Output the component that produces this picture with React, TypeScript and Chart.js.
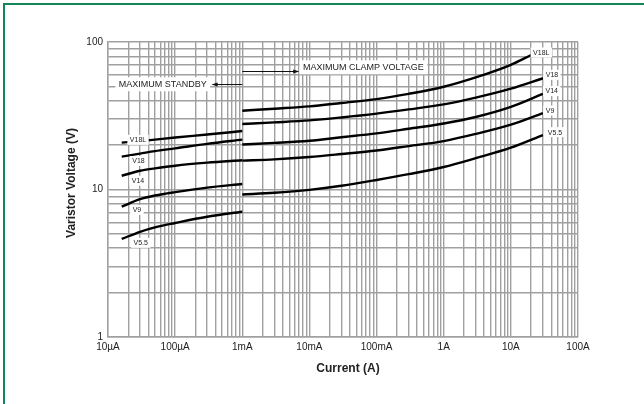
import React, { useEffect, useRef } from 'react';
import { Chart, registerables } from 'chart.js';

Chart.register(...registerables);

// ---------- axes ----------
const X_DECADES = [1e-5, 1e-4, 1e-3, 1e-2, 1e-1, 1, 10, 100];
const X_TICK_LABELS = ['10µA', '100µA', '1mA', '10mA', '100mA', '1A', '10A', '100A'];
const Y_DECADES = [1, 10, 100];
const Y_TICK_LABELS = ['1', '10', '100'];
const MINOR_STEPS = [1, 2, 3, 4, 5, 6, 7, 8, 9];

// ---------- data ----------
const SERIES_NAMES = ['V18L', 'V18', 'V14', 'V9', 'V5.5'];

const STANDBY_CURRENT = [1.6e-5, 3e-5, 5e-5, 1e-4, 3e-4, 1e-3];
const V18L_STANDBY = [20.8, 21.3, 21.8, 22.5, 23.6, 24.9];
const V18_STANDBY = [16.7, 17.5, 18.2, 19.0, 20.4, 21.8];
const V14_STANDBY = [12.4, 13.4, 13.9, 14.5, 15.2, 15.8];
const V9_STANDBY = [7.65, 8.6, 9.1, 9.6, 10.3, 10.9];
const V55_STANDBY = [4.62, 5.17, 5.54, 5.93, 6.54, 7.07];

const CLAMP_CURRENT = [1e-3, 3e-3, 1e-2, 3e-2, 0.1, 0.3, 1, 3, 10, 30];
const CLAMP_CURRENT_V18L = [1e-3, 3e-3, 1e-2, 3e-2, 0.1, 0.3, 1, 3, 10, 20];
const V18L_CLAMP = [34.2, 35.3, 36.6, 38.6, 41.0, 44.5, 49.7, 57.5, 70.0, 81.5];
const V18_CLAMP = [27.8, 28.5, 29.4, 30.8, 32.7, 34.9, 37.8, 42.0, 48.3, 56.8];
const V14_CLAMP = [20.2, 20.7, 21.4, 22.6, 24.0, 25.8, 28.0, 31.0, 36.3, 44.5];
const V9_CLAMP = [15.7, 16.0, 16.6, 17.4, 18.4, 19.7, 21.3, 23.8, 27.5, 33.0];
const V55_CLAMP = [9.25, 9.5, 9.95, 10.6, 11.6, 12.7, 14.2, 16.3, 19.2, 23.4];

const STANDBY_VALUES = [V18L_STANDBY, V18_STANDBY, V14_STANDBY, V9_STANDBY, V55_STANDBY];
const CLAMP_VALUES = [V18L_CLAMP, V18_CLAMP, V14_CLAMP, V9_CLAMP, V55_CLAMP];
const CLAMP_CURRENTS = [CLAMP_CURRENT_V18L, CLAMP_CURRENT, CLAMP_CURRENT, CLAMP_CURRENT, CLAMP_CURRENT];

// ---------- annotation anchors (data units) ----------
const LEFT_LABEL_POS = [
  { x: 2.8e-5, y: 21.7 },
  { x: 2.84e-5, y: 15.6 },
  { x: 2.8e-5, y: 11.47 },
  { x: 2.7e-5, y: 7.26 },
  { x: 3.07e-5, y: 4.35 },
];
const RIGHT_LABEL_POS = [
  { x: 28.4, y: 84.9 },
  { x: 41.0, y: 59.9 },
  { x: 40.7, y: 46.5 },
  { x: 38.3, y: 34.3 },
  { x: 45.5, y: 24.5 },
];
const CLAMP_NOTE = { text: 'MAXIMUM CLAMP VOLTAGE', x: 0.0637, y: 67.4, arrowFrom: 1e-3, arrowTo: 6.8e-3, arrowY: 64 };
const STANDBY_NOTE = { text: 'MAXIMUM STANDBY', x: 6.53e-5, y: 51.7, arrowFrom: 1e-3, arrowTo: 3.62e-4, arrowY: 51.9 };

const FONT = '"Liberation Sans", Arial, Helvetica, sans-serif';
const GRID = '#a0a0a0';
const TEXT = '#222222';

function logTicks(decades: number[]) {
  const out: number[] = [];
  for (let i = 0; i < decades.length - 1; i++) {
    for (const m of MINOR_STEPS) out.push(decades[i] * m);
  }
  out.push(decades[decades.length - 1]);
  return out;
}

function decadeLabel(value: number, decades: number[], labels: string[]) {
  const i = decades.findIndex((d) => Math.abs(d - value) / d < 1e-6);
  return i >= 0 ? labels[i] : '';
}

function boxedText(ctx: CanvasRenderingContext2D, text: string, cx: number, cy: number, size: number, padX: number, h: number) {
  ctx.font = `${size}px ${FONT}`;
  const w = ctx.measureText(text).width;
  ctx.fillStyle = '#ffffff';
  ctx.fillRect(cx - w / 2 - padX, cy - h / 2, w + padX * 2, h);
  ctx.fillStyle = TEXT;
  ctx.textAlign = 'center';
  ctx.textBaseline = 'middle';
  ctx.fillText(text, cx, cy + 0.5);
}

function arrow(ctx: CanvasRenderingContext2D, x0: number, x1: number, y: number) {
  ctx.strokeStyle = '#111';
  ctx.lineWidth = 1;
  ctx.beginPath();
  ctx.moveTo(x0, y);
  ctx.lineTo(x1, y);
  ctx.stroke();
  const dir = x1 > x0 ? 1 : -1;
  ctx.fillStyle = '#111';
  ctx.beginPath();
  ctx.moveTo(x1 + dir * 1, y);
  ctx.lineTo(x1 - dir * 5, y - 2);
  ctx.lineTo(x1 - dir * 5, y + 2);
  ctx.closePath();
  ctx.fill();
}

const overlayPlugin = {
  id: 'overlay',
  afterDatasetsDraw(chart: any) {
    const { ctx, scales } = chart;
    const xs = scales.x;
    const ys = scales.y;
    ctx.save();
    for (const note of [CLAMP_NOTE, STANDBY_NOTE]) {
      arrow(ctx, xs.getPixelForValue(note.arrowFrom), xs.getPixelForValue(note.arrowTo), Math.round(ys.getPixelForValue(note.arrowY)) + 0.5);
      boxedText(ctx, note.text, xs.getPixelForValue(note.x), ys.getPixelForValue(note.y), 9, 3.5, 14);
    }
    SERIES_NAMES.forEach((name, i) => {
      const l = LEFT_LABEL_POS[i];
      boxedText(ctx, name, xs.getPixelForValue(l.x), ys.getPixelForValue(l.y), 7, 2.5, 10);
      const r = RIGHT_LABEL_POS[i];
      boxedText(ctx, name, xs.getPixelForValue(r.x), ys.getPixelForValue(r.y), 7, 2.5, 10);
    });
    ctx.fillStyle = TEXT;
    ctx.font = `bold 12px ${FONT}`;
    ctx.textAlign = 'center';
    ctx.textBaseline = 'middle';
    ctx.fillText('Current (A)', 348, 369);
    ctx.translate(72, 183);
    ctx.rotate(-Math.PI / 2);
    ctx.fillText('Varistor Voltage (V)', 0, 0);
    ctx.restore();
  },
};

export default function App() {
  const canvasRef = useRef<HTMLCanvasElement | null>(null);

  useEffect(() => {
    if (!canvasRef.current) return;
    const datasets: any[] = [];
    SERIES_NAMES.forEach((name, i) => {
      datasets.push({
        label: name + ' standby',
        data: STANDBY_CURRENT.map((c, j) => ({ x: c, y: STANDBY_VALUES[i][j] })),
      });
      datasets.push({
        label: name + ' clamp',
        data: CLAMP_CURRENTS[i].map((c, j) => ({ x: c, y: CLAMP_VALUES[i][j] })),
      });
    });
    datasets.forEach((d) => {
      d.borderColor = '#000000';
      d.borderWidth = 2.4;
      d.pointRadius = 0;
      d.fill = false;
      d.cubicInterpolationMode = 'monotone';
      d.borderCapStyle = 'butt';
    });

    const chart = new Chart(canvasRef.current, {
      type: 'line',
      data: { datasets },
      options: {
        animation: false,
        responsive: false,
        devicePixelRatio: 1,
        layout: { padding: { left: 0, right: 66, top: 42, bottom: 0 } },
        plugins: { legend: { display: false }, tooltip: { enabled: false } },
        scales: {
          x: {
            type: 'logarithmic',
            min: X_DECADES[0],
            max: X_DECADES[X_DECADES.length - 1],
            afterBuildTicks: (scale: any) => {
              scale.ticks = logTicks(X_DECADES).map((v) => ({ value: v }));
            },
            afterFit: (scale: any) => {
              scale.height = 67;
            },
            grid: { color: GRID, lineWidth: 1.4, drawTicks: false },
            border: { display: true, color: GRID, width: 1.4 },
            ticks: {
              autoSkip: false,
              maxRotation: 0,
              minRotation: 0,
              padding: 4,
              color: TEXT,
              font: { family: FONT, size: 10 },
              callback: (v: any) => decadeLabel(Number(v), X_DECADES, X_TICK_LABELS),
            },
          },
          y: {
            type: 'logarithmic',
            min: Y_DECADES[0],
            max: Y_DECADES[Y_DECADES.length - 1],
            afterBuildTicks: (scale: any) => {
              scale.ticks = logTicks(Y_DECADES).map((v) => ({ value: v }));
            },
            afterFit: (scale: any) => {
              scale.width = 108;
            },
            grid: { color: GRID, lineWidth: 1.4, drawTicks: false },
            border: { display: true, color: GRID, width: 1.4 },
            ticks: {
              autoSkip: false,
              padding: 5,
              color: TEXT,
              font: { family: FONT, size: 10 },
              callback: (v: any) => decadeLabel(Number(v), Y_DECADES, Y_TICK_LABELS),
            },
          },
        },
      },
      plugins: [overlayPlugin],
    } as any);
    return () => chart.destroy();
  }, []);

  return (
    <div style={{ position: 'fixed', left: 0, top: 0, width: 644, height: 404, background: '#ffffff', overflow: 'hidden' }}>
      <canvas ref={canvasRef} width={644} height={404} style={{ position: 'absolute', left: 0, top: 0 }} />
      <div
        style={{
          position: 'absolute',
          left: 3,
          top: 3,
          width: 650,
          height: 410,
          borderTop: '2px solid #13875a',
          borderLeft: '2px solid #13875a',
          boxSizing: 'border-box',
          pointerEvents: 'none',
        }}
      />
    </div>
  );
}
